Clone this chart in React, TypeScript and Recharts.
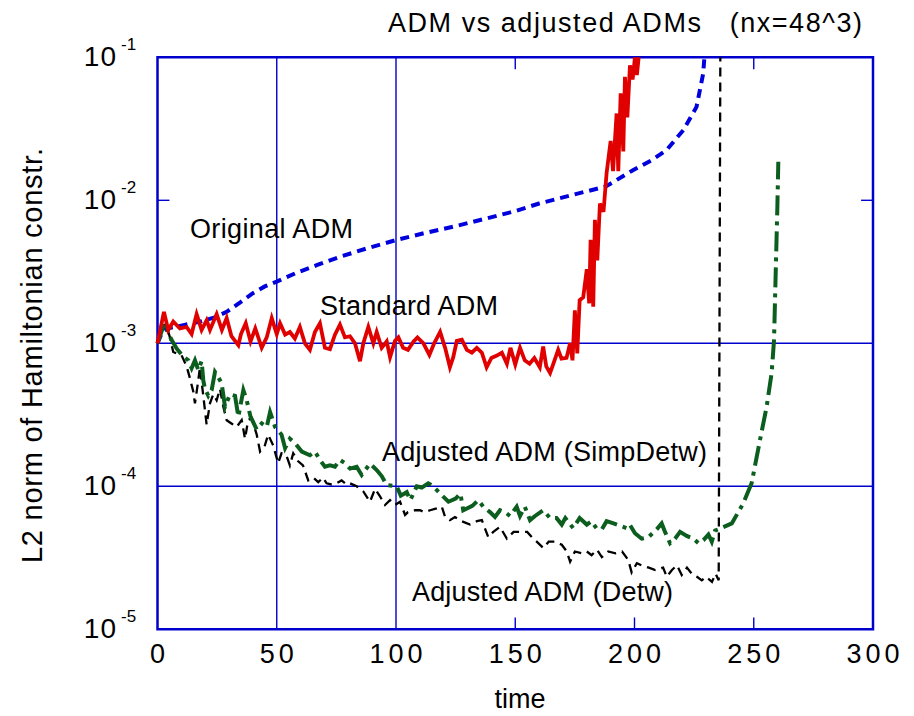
import React from "react";
import { LineChart, Line, XAxis, YAxis, ReferenceLine, ReferenceArea } from "recharts";

// time (x) / L2 norm (y) pairs
const originalAdm: [number, number][] = [
  [0, 1.0e-3], [2, 1.2e-3], [4, 1.27e-3], [10, 1.33e-3], [18, 1.42e-3], [24, 1.52e-3], [29, 1.66e-3],
  [35, 1.95e-3], [40, 2.24e-3], [45, 2.5e-3], [50, 2.7e-3], [58, 3.1e-3], [67, 3.53e-3], [77, 4.05e-3],
  [88, 4.62e-3], [100, 5.27e-3], [112, 5.9e-3], [125, 6.6e-3], [137, 7.4e-3], [150, 8.4e-3], [160, 9.5e-3],
  [174, 1.09e-2], [188, 1.25e-2], [199.5, 1.63e-2], [207, 1.9e-2], [213.5, 2.25e-2], [220.5, 3.1e-2],
  [226, 4.5e-2], [228.8, 7.7e-2], [229.5, 1.1e-1],
];

const standardAdm: [number, number][] = [
  [0, 1.0e-3], [2.7, 1.66e-3], [4.5, 1.24e-3], [6.6, 1.42e-3], [9.4, 1.27e-3], [12.2, 1.3e-3], [14.3, 1.16e-3],
  [16.4, 1.6e-3], [18.5, 1.24e-3], [20.6, 1.45e-3], [22, 1.24e-3], [24.8, 1.6e-3], [27, 1.24e-3], [29, 1.5e-3],
  [31, 1.12e-3], [33.9, 0.97e-3], [35, 1.16e-3], [37, 1.38e-3], [39, 1.03e-3], [41, 1.27e-3], [43.7, 0.93e-3],
  [45.8, 1.1e-3], [47.9, 1.5e-3], [50, 1.16e-3], [51.4, 1.38e-3], [53.5, 1.15e-3], [55.5, 1.2e-3], [57.6, 1.08e-3],
  [59.7, 1.3e-3], [61.8, 1.0e-3], [63.9, 0.9e-3], [66, 1.2e-3], [68.1, 1.38e-3], [70.2, 0.93e-3], [72.3, 0.91e-3],
  [74.4, 1.15e-3], [76.5, 1.35e-3], [78.6, 1.1e-3], [80.7, 1.12e-3], [82.8, 1.0e-3], [84.9, 0.75e-3], [86.3, 1.0e-3],
  [88.4, 1.3e-3], [90.5, 1.0e-3], [91.9, 1.2e-3], [94, 0.93e-3], [96.1, 1.03e-3], [97.5, 0.8e-3], [99.6, 1.04e-3],
  [101, 1.1e-3], [103, 0.93e-3], [105, 0.9e-3], [107.4, 1.03e-3], [109, 1.1e-3], [111.5, 1.0e-3], [114, 0.83e-3],
  [116, 1.0e-3], [118.5, 1.2e-3], [120.6, 0.93e-3], [122.6, 0.68e-3], [124, 0.8e-3], [125.5, 1.04e-3],
  [127.6, 1.06e-3], [129.7, 0.9e-3], [131.8, 0.86e-3], [133.9, 0.93e-3], [136, 0.86e-3], [138, 0.68e-3],
  [140, 0.79e-3], [142.3, 0.82e-3], [144.4, 0.86e-3], [146.5, 0.72e-3], [148, 0.93e-3], [150, 0.71e-3],
  [152, 0.93e-3], [154, 0.76e-3], [156, 0.72e-3], [158, 0.79e-3], [160.3, 0.68e-3], [161.7, 0.95e-3],
  [163, 0.69e-3], [164.6, 0.62e-3], [166, 0.72e-3], [168, 0.9e-3], [169.4, 0.78e-3], [171.5, 0.79e-3],
  [173, 1.0e-3], [174, 0.76e-3], [175, 1.7e-3], [176, 0.85e-3], [177, 2.0e-3], [178.5, 2.1e-3], [180, 3.3e-3],
  [181, 1.9e-3], [181.6, 5.3e-3], [182.7, 1.8e-3], [183.4, 7.3e-3], [184.4, 3.8e-3], [185.5, 9.5e-3],
  [187, 8.3e-3], [188.3, 1.55e-2], [190, 2.6e-2], [191, 1.6e-2], [192.5, 4.05e-2], [193.2, 1.6e-2],
  [194.2, 5.6e-2], [195.3, 2.2e-2], [196, 7.3e-2], [197, 3.8e-2], [198.1, 8.8e-2], [199.2, 7.0e-2],
  [200.2, 1.0e-1], [201, 7.5e-2], [202, 1.1e-1],
];

const adjustedDetw: [number, number][] = [
  [0, 1.0e-3], [2.4, 1.31e-3], [3.6, 1.37e-3], [5.2, 1.1e-3], [6.6, 8.7e-4], [8, 8.5e-4], [10, 8.3e-4],
  [12.2, 6.9e-4], [13.6, 5.7e-4], [15, 4.6e-4], [15.7, 3.8e-4], [17.1, 5.5e-4], [17.8, 6.8e-4], [19.9, 3.4e-4],
  [20.6, 2.7e-4], [22, 3.8e-4], [23.4, 4.4e-4], [24.8, 4.0e-4], [26.2, 4.8e-4], [27.6, 3.6e-4], [29, 2.9e-4],
  [31, 2.75e-4], [33.2, 2.6e-4], [35.3, 2.9e-4], [36.7, 2.15e-4], [38, 2.9e-4], [39.5, 3.0e-4], [41.6, 2.3e-4],
  [43, 1.75e-4], [45, 1.93e-4], [46.4, 2.3e-4], [48.5, 1.93e-4], [50.6, 1.45e-4], [52, 1.7e-4], [54, 1.65e-4],
  [55.5, 1.4e-4], [56.9, 1.7e-4], [58.9, 1.5e-4], [61, 1.4e-4], [63.2, 1.1e-4], [65.3, 1.15e-4], [67.4, 1.07e-4],
  [69.4, 1.15e-4], [70.9, 1.05e-4], [73, 1.03e-4], [75, 1.05e-4], [77.2, 1.1e-4], [79.3, 1.03e-4], [80.7, 1.05e-4],
  [83.5, 1.0e-4], [86.3, 9.2e-5], [89.1, 7.8e-5], [91.2, 9.6e-5], [93.3, 8.5e-5], [95.4, 7.4e-5], [97.5, 8.0e-5],
  [99.6, 7.4e-5], [101.7, 7.8e-5], [103.8, 6.3e-5], [105, 6.6e-5], [108, 6.8e-5], [110, 6.8e-5], [112, 6.6e-5],
  [114.3, 6.8e-5], [117, 7.0e-5], [119.2, 7.2e-5], [120.6, 6.1e-5], [122.6, 5.8e-5], [124.7, 6.1e-5],
  [127.5, 5.7e-5], [131, 5.4e-5], [133.9, 5.7e-5], [136, 5.8e-5], [138.7, 4.4e-5], [140.8, 4.8e-5],
  [143.6, 5.2e-5], [146.5, 4.3e-5], [149.3, 4.8e-5], [152, 4.8e-5], [155, 4.8e-5], [157, 4.4e-5], [159, 4.1e-5],
  [161.8, 3.7e-5], [164, 4.1e-5], [166.7, 4.1e-5], [169.5, 3.9e-5], [171.6, 3.5e-5], [173, 2.97e-5], [175, 3.5e-5],
  [178, 3.4e-5], [180, 3.5e-5], [182, 3.3e-5], [184.3, 3.6e-5], [186.3, 3.2e-5], [189, 3.5e-5], [192, 3.4e-5],
  [194.8, 3.5e-5], [197.4, 3.05e-5], [198.8, 2.5e-5], [201, 2.9e-5], [203, 2.8e-5], [206, 2.7e-5], [208.7, 2.6e-5],
  [212, 2.7e-5], [213.5, 2.33e-5], [215.7, 2.6e-5], [217.8, 2.8e-5], [219.8, 2.4e-5], [222, 2.7e-5],
  [224, 2.45e-5], [226.2, 2.33e-5], [228.2, 2.2e-5], [230, 2.33e-5], [232.5, 2.15e-5], [234, 2.45e-5],
  [235.3, 2.2e-5], [236, 1.2e-1],
];

const adjustedSimpDetw: [number, number][] = [
  [0, 1.0e-3], [2.4, 1.31e-3], [3.6, 1.37e-3], [4.5, 1.17e-3], [6, 1.05e-3], [8, 9.2e-4], [10.8, 8.05e-4],
  [12.9, 7.6e-4], [14.3, 6.7e-4], [15.7, 7.6e-4], [17.1, 6.5e-4], [18.5, 7.5e-4], [19.2, 5.5e-4], [19.9, 4.8e-4],
  [21.3, 4.3e-4], [22.7, 4.7e-4], [24.1, 6.3e-4], [25.5, 5.8e-4], [26.9, 5.25e-4], [28.3, 3.6e-4], [30.4, 4.4e-4],
  [32.5, 4.3e-4], [33.9, 3.07e-4], [36, 4.7e-4], [37.4, 4.0e-4], [39, 3.07e-4], [41.6, 2.5e-4], [43.7, 2.75e-4],
  [45.8, 2.6e-4], [47.2, 3.3e-4], [49.3, 2.6e-4], [52, 2.3e-4], [53.5, 1.85e-4], [55.5, 2.15e-4], [57.7, 2.0e-4],
  [60.5, 1.75e-4], [63.9, 1.65e-4], [66, 1.75e-4], [68.1, 1.53e-4], [70.2, 1.37e-4], [72.3, 1.4e-4],
  [74.4, 1.37e-4], [76.5, 1.53e-4], [78.6, 1.45e-4], [80.7, 1.33e-4], [83.5, 1.37e-4], [85.6, 1.2e-4],
  [89.1, 1.44e-4], [91.9, 1.3e-4], [94, 1.18e-4], [96.1, 1.02e-4], [100.3, 1.0e-4], [102, 8.6e-5],
  [104.5, 9.1e-5], [106, 8.0e-5], [108.7, 1.0e-4], [110.8, 9.8e-5], [113.5, 1.05e-4], [115.6, 1.0e-4],
  [118.5, 8.9e-5], [122, 7.8e-5], [125, 8.2e-5], [127, 8.9e-5], [128.2, 6.8e-5], [132, 7.3e-5], [134.5, 8.0e-5],
  [136.6, 7.2e-5], [139.4, 6.6e-5], [141.5, 6.1e-5], [143.6, 6.8e-5], [145.7, 6.6e-5], [147.8, 6.2e-5],
  [150.6, 7.2e-5], [152, 6.2e-5], [154, 7.2e-5], [156.2, 5.8e-5], [158.3, 6.2e-5], [161.7, 6.8e-5],
  [164.6, 6.0e-5], [167.3, 6.0e-5], [169.5, 5.4e-5], [171, 6.0e-5], [174.3, 5.1e-5], [177, 6.0e-5],
  [180, 5.4e-5], [182, 5.7e-5], [184, 5.1e-5], [186.3, 5.0e-5], [188.3, 5.7e-5], [191.2, 5.5e-5],
  [193.9, 5.3e-5], [196.7, 5.1e-5], [198, 5.4e-5], [200.2, 4.7e-5], [203, 4.3e-5], [205.8, 4.4e-5],
  [209.3, 5.0e-5], [211.4, 5.5e-5], [212.8, 4.8e-5], [214.9, 4.0e-5], [217, 4.3e-5], [219.1, 4.8e-5],
  [221.9, 4.5e-5], [224.7, 4.3e-5], [226.8, 4.0e-5], [228.9, 4.2e-5], [231, 4.6e-5], [232.4, 4.1e-5],
  [233.8, 4.9e-5], [235.1, 5.0e-5], [240.8, 5.5e-5], [245.6, 7.6e-5], [249.1, 1.05e-4], [252.6, 2.1e-4],
  [255.4, 3.6e-4], [257.5, 6.2e-4], [258.5, 1.05e-3], [259.2, 3.1e-3], [259.9, 9.0e-3], [260.3, 1.86e-2],
];

const xTicks = [0, 50, 100, 150, 200, 250, 300];
const yTicks = [1e-5, 1e-4, 1e-3, 1e-2, 1e-1];
const xGrid = [50, 100];
const yGrid = [1e-3, 1e-4];
const xMarks = [150, 200, 250];

const toRows = (pairs: [number, number][]) => pairs.map(([t, v]) => ({ t, v }));

const FONT = "'Liberation Sans', Arial, sans-serif";
const FRAME = "#0000cc";

function YTick(props: any) {
  const { y, payload } = props;
  const exp = Math.round(Math.log10(payload.value));
  return (
    <g fontFamily={FONT} fill="#000">
      <text x={117} y={y + 9} textAnchor="end" fontSize={28} letterSpacing={1}>10</text>
      <text x={121} y={y - 7} textAnchor="start" fontSize={17}>{exp}</text>
    </g>
  );
}

function XTick(props: any) {
  const { x, payload } = props;
  return (
    <text x={x + 2} y={663} textAnchor="middle" fontSize={27} fontFamily={FONT} letterSpacing={4} fill="#000">
      {payload.value}
    </text>
  );
}

export default function App() {
  return (
    <div style={{ position: "relative", width: 914, height: 716, margin: -8, background: "#fff" }}>
      <LineChart width={914} height={716} data={toRows(originalAdm)} margin={{ top: 57.3, right: 41, bottom: 0, left: 0 }}>
        <XAxis dataKey="t" type="number" domain={[0, 300]} ticks={xTicks} height={86.7} axisLine={false} tickLine={false} tick={<XTick />} interval={0} />
        <YAxis type="number" scale="log" domain={[1e-5, 1e-1]} ticks={yTicks} allowDataOverflow width={157.5} axisLine={false} tickLine={false} tick={<YTick />} interval={0} />
        {xGrid.map((x) => <ReferenceLine key={`gx${x}`} x={x} stroke={FRAME} strokeWidth={1.4} />)}
        {yGrid.map((y) => <ReferenceLine key={`gy${y}`} y={y} stroke={FRAME} strokeWidth={1.4} />)}
        {xMarks.map((x) => <ReferenceLine key={`b${x}`} segment={[{ x, y: 1e-5 }, { x, y: 1.21e-5 }]} stroke={FRAME} strokeWidth={1.4} />)}
        {xMarks.map((x) => <ReferenceLine key={`t${x}`} segment={[{ x, y: 0.0826 }, { x, y: 0.1 }]} stroke={FRAME} strokeWidth={1.4} />)}
        <ReferenceLine segment={[{ x: 0, y: 1e-2 }, { x: 5, y: 1e-2 }]} stroke={FRAME} strokeWidth={1.4} />
        <ReferenceLine segment={[{ x: 295, y: 1e-2 }, { x: 300, y: 1e-2 }]} stroke={FRAME} strokeWidth={1.4} />
        <ReferenceArea x1={0} x2={300} y1={1e-5} y2={1e-1} fill="none" stroke={FRAME} strokeWidth={2.5} ifOverflow="visible" />
        <Line data={toRows(originalAdm)} dataKey="v" type="linear" dot={false} stroke="#0000dd" strokeWidth={4} strokeDasharray="9 6" isAnimationActive={false} />
        <Line data={toRows(adjustedDetw)} dataKey="v" type="linear" dot={false} stroke="#000" strokeWidth={2.3} strokeDasharray="9 6" isAnimationActive={false} />
        <Line data={toRows(adjustedSimpDetw)} dataKey="v" type="linear" dot={false} stroke="#0b5e1e" strokeWidth={4} strokeDasharray="20 6 4 6" isAnimationActive={false} />
        <Line data={toRows(standardAdm)} dataKey="v" type="linear" dot={false} stroke="#e00000" strokeWidth={3.8} isAnimationActive={false} />
      </LineChart>
      <svg width={914} height={716} style={{ position: "absolute", left: 0, top: 0, pointerEvents: "none" }} fontFamily={FONT}>
        <text x={388} y={32} fontSize={27} textLength={474} lengthAdjust="spacing" style={{ whiteSpace: "pre" }}>ADM vs adjusted ADMs   (nx=48^3)</text>
        <text x={190} y={238} fontSize={27} textLength={163} lengthAdjust="spacing">Original ADM</text>
        <text x={320} y={315} fontSize={27} textLength={178} lengthAdjust="spacing">Standard ADM</text>
        <text x={382} y={461} fontSize={27} textLength={325} lengthAdjust="spacing">Adjusted ADM (SimpDetw)</text>
        <text x={412} y={601} fontSize={27} textLength={261} lengthAdjust="spacing">Adjusted ADM (Detw)</text>
        <text x={520} y={708} fontSize={27} textAnchor="middle">time</text>
        <text x={42} y={563} fontSize={29} transform="rotate(-90 42 563)" textLength={415} lengthAdjust="spacing">L2 norm of Hamiltonian constr.</text>
      </svg>
    </div>
  );
}
